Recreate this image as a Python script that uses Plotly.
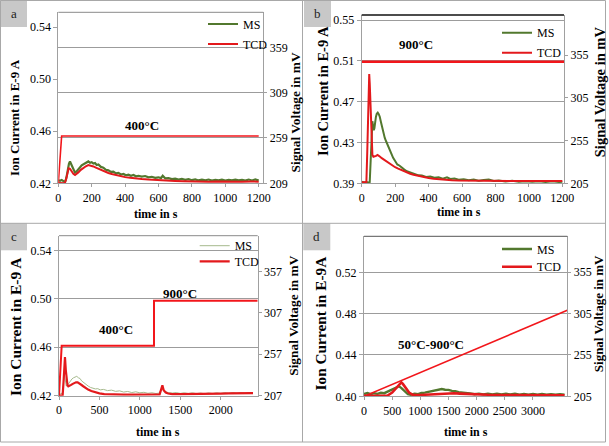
import plotly.graph_objects as go

# ---------------- data ----------------
# panel a : 400 °C
ms_a_t = [0, 10, 20, 30, 40, 48, 56, 64, 70, 76, 84, 92, 100, 108, 116, 124, 132, 140, 150, 160,
          170, 180, 190, 200, 210, 220, 230, 240, 255, 270, 285, 300, 315, 330, 345, 360, 375, 390,
          405, 420, 435, 450, 465, 480, 500, 520, 540, 560, 580, 600, 615, 625, 640, 660, 680, 700,
          720, 740, 760, 780, 800, 820, 840, 860, 880, 900, 920, 940, 960, 980, 1000, 1020, 1040,
          1060, 1080, 1100, 1120, 1140, 1160, 1180, 1200]
ms_a = [0.4224, 0.4220, 0.4226, 0.4218, 0.4208, 0.4240, 0.4310, 0.4352, 0.4368, 0.4350, 0.4318,
        0.4296, 0.4282, 0.4290, 0.4305, 0.4318, 0.4326, 0.4338, 0.4344, 0.4352, 0.4360, 0.4368,
        0.4358, 0.4362, 0.4352, 0.4356, 0.4340, 0.4344, 0.4326, 0.4320, 0.4304, 0.4300, 0.4288,
        0.4290, 0.4276, 0.4280, 0.4268, 0.4272, 0.4262, 0.4266, 0.4258, 0.4264, 0.4254, 0.4258,
        0.4252, 0.4256, 0.4246, 0.4250, 0.4242, 0.4246, 0.4240, 0.4258, 0.4238, 0.4240, 0.4232,
        0.4236, 0.4228, 0.4234, 0.4226, 0.4232, 0.4224, 0.4230, 0.4222, 0.4228, 0.4223, 0.4229,
        0.4221, 0.4227, 0.4222, 0.4228, 0.4221, 0.4227, 0.4222, 0.4228, 0.4222, 0.4227, 0.4221,
        0.4229, 0.4222, 0.4230, 0.4221]
tcd_a_t = [0, 20, 38, 46, 54, 62, 70, 80, 90, 100, 110, 120, 135, 150, 165, 180, 195, 210, 225, 240,
           260, 280, 300, 320, 340, 360, 380, 400, 430, 460, 500, 540, 580, 620, 660, 700, 750, 800,
           850, 900, 950, 1000, 1050, 1100, 1150, 1200]
tcd_a = [209.4, 209.2, 209.0, 213.0, 221.0, 225.6, 225.0, 222.0, 219.4, 218.2, 219.4, 221.0, 223.8,
         226.0, 227.8, 229.2, 228.6, 227.6, 226.3, 225.0, 223.4, 222.0, 220.4, 219.2, 218.2, 217.4,
         216.4, 215.8, 215.2, 214.4, 213.8, 213.2, 212.6, 212.3, 212.0, 211.6, 211.3, 211.0, 211.2,
         210.8, 211.0, 210.7, 211.0, 210.8, 211.0, 210.8]
temp_a_t = [0, 20, 1200]
temp_a = [209.0, 261.2, 261.2]

# panel b : 900 °C
ms_b_t = [0, 15, 30, 42, 48, 52, 56, 60, 64, 68, 72, 76, 80, 85, 90, 96, 102, 108, 115, 122, 130,
          138, 146, 155, 165, 175, 188, 200, 213, 227, 240, 255, 270, 285, 300, 320, 340, 360, 385,
          410, 435, 460, 485, 510, 530, 555, 580, 610, 640, 670, 700, 730, 760, 790, 820, 860, 900,
          940, 980, 1020, 1060, 1100, 1140, 1180, 1200]
ms_b = [0.3915, 0.3908, 0.3912, 0.3906, 0.3912, 0.4050, 0.4300, 0.4480, 0.4508, 0.4460, 0.4420,
        0.4440, 0.4500, 0.4550, 0.4582, 0.4592, 0.4578, 0.4552, 0.4500, 0.4450, 0.4392, 0.4345,
        0.4312, 0.4275, 0.4232, 0.4200, 0.4150, 0.4118, 0.4085, 0.4072, 0.4052, 0.4034, 0.4018,
        0.4008, 0.3998, 0.3990, 0.3978, 0.3976, 0.3962, 0.3966, 0.3954, 0.3958, 0.3946, 0.3958,
        0.3942, 0.3946, 0.3936, 0.3940, 0.3930, 0.3936, 0.3926, 0.3932, 0.3938, 0.3922, 0.3928,
        0.3918, 0.3924, 0.3915, 0.3921, 0.3914, 0.3920, 0.3912, 0.3919, 0.3912, 0.3916]
tcd_b_t = [0, 15, 28, 33, 38, 42, 45, 48, 52, 56, 60, 64, 70, 78, 86, 95, 102, 110, 120, 130, 140,
           150, 160, 170, 185, 200, 215, 230, 250, 270, 290, 310, 330, 350, 375, 400, 430, 460, 500,
           540, 580, 620, 680, 740, 800, 880, 960, 1040, 1120, 1200]
tcd_b = [206.2, 206.0, 206.4, 240.0, 290.0, 322.0, 332.7, 322.0, 295.0, 268.0, 248.0, 238.0, 236.0,
         236.2, 237.0, 238.2, 237.6, 236.0, 234.4, 233.0, 231.6, 230.2, 228.6, 227.2, 225.4, 223.8,
         222.4, 221.0, 219.2, 217.6, 216.2, 215.0, 214.0, 213.1, 212.0, 211.2, 210.4, 209.7, 209.1,
         208.6, 208.3, 208.1, 207.9, 207.8, 207.7, 207.6, 207.6, 207.6, 207.5, 207.6]
temp_b_t = [0, 1210]
temp_b = [347.1, 347.1]

# panel c : 400 °C then 900 °C
ms_c_t = [0, 20, 40, 50, 58, 66, 74, 82, 90, 100, 112, 125, 140, 160, 180, 200, 220, 240, 260, 280,
          300, 330, 360, 390, 420, 450, 480, 510, 550, 600, 650, 700, 750, 800, 850, 900, 950, 1000,
          1050, 1100, 1150, 1200, 1240, 1260, 1278, 1295, 1320, 1350, 1400, 1450, 1500, 1550, 1600,
          1650, 1700, 1750, 1800, 1850, 1900, 1950, 2000, 2050, 2100, 2150, 2200, 2250, 2300, 2350,
          2400]
ms_c = [0.4222, 0.4215, 0.4220, 0.4260, 0.4330, 0.4372, 0.4345, 0.4300, 0.4280, 0.4282, 0.4295,
        0.4310, 0.4322, 0.4338, 0.4348, 0.4356, 0.4360, 0.4348, 0.4342, 0.4322, 0.4310, 0.4290,
        0.4280, 0.4268, 0.4262, 0.4256, 0.4258, 0.4248, 0.4252, 0.4242, 0.4246, 0.4236, 0.4240,
        0.4230, 0.4235, 0.4226, 0.4232, 0.4224, 0.4228, 0.4220, 0.4224, 0.4218, 0.4222, 0.4245,
        0.4272, 0.4240, 0.4232, 0.4226, 0.4222, 0.4226, 0.4219, 0.4224, 0.4218, 0.4224, 0.4217,
        0.4222, 0.4216, 0.4223, 0.4217, 0.4224, 0.4218, 0.4225, 0.4219, 0.4226, 0.4220, 0.4225,
        0.4219, 0.4226, 0.4221]
tcd_c_t = [0, 30, 45, 55, 64, 74, 84, 95, 105, 115, 130, 150, 170, 190, 210, 230, 250, 275, 300,
           330, 360, 400, 450, 500, 560, 620, 700, 800, 900, 1000, 1100, 1200, 1245, 1262, 1279,
           1295, 1320, 1350, 1400, 1500, 1600, 1700, 1800, 1900, 2000, 2100, 2200, 2300, 2400]
tcd_c = [207.2, 207.0, 207.5, 222.0, 240.0, 253.7, 238.0, 225.0, 219.5, 218.3, 218.8, 220.0, 221.3,
         222.4, 223.1, 223.0, 222.0, 220.2, 218.4, 216.3, 214.4, 212.6, 211.0, 209.8, 209.0, 208.6,
         208.3, 208.2, 208.2, 208.2, 208.2, 208.3, 208.6, 214.0, 219.5, 213.5, 210.8, 209.6, 209.0,
         208.8, 208.8, 208.9, 209.0, 209.2, 209.5, 209.8, 210.0, 210.1, 210.2]
temp_c_t = [0, 33, 1175, 1175, 2458]
temp_c = [207.0, 267.3, 267.3, 321.6, 321.6]

# panel d : ramp 50 °C - 900 °C
ms_d_t = [0, 60, 120, 180, 240, 300, 360, 420, 480, 540, 580, 620, 660, 700, 740, 780, 830, 900,
          960, 1020, 1080, 1140, 1200, 1260, 1320, 1380, 1440, 1500, 1560, 1620, 1680, 1740, 1800,
          1880, 1960, 2040, 2120, 2200, 2280, 2360, 2440, 2520, 2600, 2680, 2760, 2840, 2920, 3000,
          3080, 3160, 3240, 3320, 3400, 3480, 3560]
ms_d = [0.4022, 0.4032, 0.4020, 0.4030, 0.4024, 0.4034, 0.4030, 0.4046, 0.4062, 0.4080, 0.4092,
        0.4097, 0.4082, 0.4060, 0.4036, 0.4022, 0.4016, 0.4026, 0.4020, 0.4032, 0.4036, 0.4044,
        0.4050, 0.4060, 0.4066, 0.4071, 0.4064, 0.4062, 0.4052, 0.4050, 0.4040, 0.4038, 0.4030,
        0.4028, 0.4020, 0.4026, 0.4019, 0.4026, 0.4018, 0.4025, 0.4018, 0.4024, 0.4017, 0.4024,
        0.4016, 0.4023, 0.4016, 0.4022, 0.4015, 0.4022, 0.4016, 0.4021, 0.4015, 0.4020, 0.4016]
tcd_d_t = [0, 200, 350, 420, 500, 580, 640, 663, 690, 740, 800, 860, 900, 1000, 1100, 1200, 1300,
           1400, 1500, 1600, 1700, 1800, 1900, 2000, 2200, 2400, 2600, 2800, 3000, 3200, 3400, 3560]
tcd_d = [205.6, 205.5, 205.6, 206.0, 209.5, 215.2, 220.4, 221.9, 220.0, 214.5, 209.5, 207.0, 206.6,
         206.6, 207.0, 207.6, 208.2, 208.6, 208.8, 208.6, 208.2, 207.8, 207.4, 207.0, 206.8, 206.6,
         206.5, 206.4, 206.4, 206.3, 206.3, 206.3]
temp_d_t = [0, 3609]
temp_d = [205.0, 309.0]

# tick values
x_ticks_a = [0, 200, 400, 600, 800, 1000, 1200]
x_ticks_c = [0, 500, 1000, 1500, 2000]
x_ticks_d = [0, 500, 1000, 1500, 2000, 2500, 3000]
yl_ticks_a = [0.42, 0.46, 0.50, 0.54]
yr_ticks_a = [209, 259, 309, 359]
yl_ticks_b = [0.39, 0.43, 0.47, 0.51, 0.55]
yr_ticks_b = [205, 255, 305, 355]
yl_ticks_c = [0.42, 0.46, 0.50, 0.54]
yr_ticks_c = [207, 257, 307, 357]
yl_ticks_d = [0.40, 0.44, 0.48, 0.52]
yr_ticks_d = [205, 255, 305, 355]

# ---------------- styling / layout ----------------
W, H = 609, 446
FONT = "Liberation Serif, serif"
GREEN = "#52782E"
GREEN_LIGHT = "#A6B98D"
RED = "#E3191C"
TEMP_RED = "#F2161B"
AX = "#A0A0A0"


def px(x):
    return x / W


def py(y):
    return 1 - y / H


def yname(n):
    return "y" if n == 1 else f"y{n}"


def ykey(n):
    return "yaxis" if n == 1 else f"yaxis{n}"


def xname(n):
    return "x" if n == 1 else f"x{n}"


def xkey(n):
    return "xaxis" if n == 1 else f"xaxis{n}"


def lkey(n):
    return "legend" if n == 1 else f"legend{n}"


panels = [
    dict(letter="a", x0=58.3, x1=263.3, top=12.3, bot=183.3, xr=[0, 1227.5], xt=x_ticks_a,
         yl=[0.42, 0.5515], ylt=yl_ticks_a, yr=[209, 397.6], yrt=yr_ticks_a, grid="right",
         ms=(ms_a_t, ms_a, GREEN, 2.2), tcd=(tcd_a_t, tcd_a, RED, 2.0), temp=(temp_a_t, temp_a, 1.6),
         leg=[(240, 23), (240, 43)], box=(0, 0), top_color="#8A8A8A", top_w=1,
         ltitle=(14, 118, 13), rtitle=(295, 112.5, 13.4), xtitle=(155.7, 214),
         notes=[("400°C", 141.7, 125)]),
    dict(letter="b", x0=361.7, x1=564, top=15, bot=183.3, xr=[0, 1210], xt=x_ticks_a,
         yl=[0.39, 0.5549], ylt=yl_ticks_b, yr=[205, 401.8], yrt=yr_ticks_b, grid="left",
         ms=(ms_b_t, ms_b, GREEN, 2.0), tcd=(tcd_b_t, tcd_b, RED, 2.0), temp=(temp_b_t, temp_b, 2.6),
         leg=[(534, 31.7), (534, 51.7)], box=(304, 0), top_color="#111111", top_w=1.5,
         ltitle=(322.3, 90.7, 14.5), rtitle=(599.5, 91.7, 14.5), xtitle=(459, 212),
         notes=[("900°C", 415.7, 45)]),
    dict(letter="c", x0=59, x1=257.7, top=235.7, bot=395.7, xr=[0, 2458], xt=x_ticks_c,
         yl=[0.42, 0.5521], ylt=yl_ticks_c, yr=[207, 400], yrt=yr_ticks_c, grid="left",
         ms=(ms_c_t, ms_c, GREEN_LIGHT, 1.0), tcd=(tcd_c_t, tcd_c, RED, 2.2), temp=(temp_c_t, temp_c, 2.0),
         leg=[(231.7, 244.7), (231.7, 260.3)], box=(0, 223.3), top_color="#8A8A8A", top_w=1,
         ltitle=(15, 327, 15.5), rtitle=(293.3, 315.5, 13.4), xtitle=(158.3, 431.5),
         notes=[("400°C", 116, 329), ("900°C", 180, 293)]),
    dict(letter="d", x0=364, x1=567.3, top=236.3, bot=396.3, xr=[0, 3609], xt=x_ticks_d,
         yl=[0.40, 0.5549], ylt=yl_ticks_d, yr=[205, 398.5], yrt=yr_ticks_d, grid="left",
         ms=(ms_d_t, ms_d, GREEN, 2.4), tcd=(tcd_d_t, tcd_d, RED, 2.6), temp=(temp_d_t, temp_d, 1.6),
         leg=[(534, 248), (534, 265.7)], box=(303.3, 223.3), top_color="#555555", top_w=1,
         ltitle=(320.7, 323.7, 15.3), rtitle=(598.5, 313.7, 13), xtitle=(465.7, 431.5),
         notes=[("50°C-900°C", 430.7, 344.7)]),
]

fig = go.Figure()
layout = dict(width=W, height=H, margin=dict(l=0, r=0, t=0, b=0), template="none",
              paper_bgcolor="white", plot_bgcolor="rgba(0,0,0,0)", showlegend=True,
              font=dict(family=FONT, size=12, color="#000"))
shapes = []
annotations = []

tickfont = dict(family=FONT, size=12, color="#000")

for i, p in enumerate(panels, start=1):
    yl_n, yr_n = 2 * i - 1, 2 * i
    layout[xkey(i)] = dict(domain=[px(p["x0"]), px(p["x1"])], anchor=yname(yl_n), range=p["xr"],
                           tickvals=p["xt"], ticks="outside", ticklen=3, tickcolor=AX,
                           showline=True, linecolor=AX, linewidth=1, showgrid=False,
                           zeroline=False, tickfont=tickfont, fixedrange=True)
    layout[ykey(yl_n)] = dict(domain=[py(p["bot"]), py(p["top"])], anchor=xname(i), range=p["yl"],
                              tickvals=p["ylt"], tickformat=".2f", ticks="outside", ticklen=4,
                              tickcolor=AX, showline=True, linecolor=AX, linewidth=1,
                              showgrid=(p["grid"] == "left"), gridcolor="#9C9C9C", gridwidth=1,
                              zeroline=False, tickfont=tickfont, fixedrange=True)
    layout[ykey(yr_n)] = dict(overlaying=yname(yl_n), side="right", anchor=xname(i), range=p["yr"],
                              tickvals=p["yrt"], ticks="outside", ticklen=3, tickcolor=AX,
                              showline=True, linecolor=AX, linewidth=1,
                              showgrid=(p["grid"] == "right"), gridcolor="#9C9C9C", gridwidth=1,
                              zeroline=False, tickfont=tickfont, fixedrange=True)

    t, v, c, w = p["ms"]
    fig.add_trace(go.Scatter(x=t, y=v, xaxis=xname(i), yaxis=yname(yl_n), mode="lines", name="MS",
                             line=dict(color=c, width=w), legend=lkey(2 * i - 1), hoverinfo="skip"))
    t, v, w = p["temp"]
    fig.add_trace(go.Scatter(x=t, y=v, xaxis=xname(i), yaxis=yname(yr_n), mode="lines",
                             name="temperature", line=dict(color=TEMP_RED, width=w),
                             showlegend=False, hoverinfo="skip"))
    t, v, c, w = p["tcd"]
    fig.add_trace(go.Scatter(x=t, y=v, xaxis=xname(i), yaxis=yname(yr_n), mode="lines", name="TCD",
                             line=dict(color=c, width=w), legend=lkey(2 * i), hoverinfo="skip"))

    for k, (lx, ly) in enumerate(p["leg"]):
        layout[lkey(2 * i - 1 + k)] = dict(x=px(lx - 37), y=py(ly + 1), xanchor="left", yanchor="middle",
                                         bgcolor="rgba(0,0,0,0)", borderwidth=0,
                                         font=dict(family=FONT, size=12, color="#000"))

    # plot-area top border
    shapes.append(dict(type="line", xref="paper", yref="paper", x0=px(p["x0"]), x1=px(p["x1"]),
                       y0=py(p["top"]), y1=py(p["top"]),
                       line=dict(color=p["top_color"], width=p["top_w"])))
    # label box
    bx, by = p["box"]
    shapes.append(dict(type="rect", xref="paper", yref="paper", x0=px(bx), x1=px(bx + 27),
                       y0=py(by + 27), y1=py(by), fillcolor="#C8C8C8", line=dict(width=0),
                       layer="below"))
    annotations.append(dict(text=p["letter"], x=px(bx + 13.5), y=py(by + 13.5), xref="paper",
                            yref="paper", showarrow=False, xanchor="center", yanchor="middle",
                            font=dict(family=FONT, size=13, color="#222")))
    # axis titles
    lx, ly, ls = p["ltitle"]
    annotations.append(dict(text="<b>Ion Current in E-9 A</b>" if p["letter"] != "d" else "<b>Ion Current in E-9A</b>",
                            x=px(lx), y=py(ly), xref="paper", yref="paper", showarrow=False,
                            textangle=-90, xanchor="center", yanchor="middle",
                            font=dict(family=FONT, size=ls, color="#000")))
    rx, ry, rs = p["rtitle"]
    annotations.append(dict(text="<b>Signal Voltage in mV</b>", x=px(rx), y=py(ry), xref="paper",
                            yref="paper", showarrow=False, textangle=-90, xanchor="center",
                            yanchor="middle", font=dict(family=FONT, size=rs, color="#000")))
    tx, ty = p["xtitle"]
    annotations.append(dict(text="<b>time in s</b>", x=px(tx), y=py(ty), xref="paper", yref="paper",
                            showarrow=False, xanchor="center", yanchor="middle",
                            font=dict(family=FONT, size=12, color="#000")))
    for txt, nx, ny in p["notes"]:
        annotations.append(dict(text=f"<b>{txt}</b>", x=px(nx), y=py(ny), xref="paper", yref="paper",
                                showarrow=False, xanchor="center", yanchor="middle",
                                font=dict(family=FONT, size=13, color="#000")))

# panel frames
FR = "#A8A8A8"
shapes += [
    dict(type="rect", xref="paper", yref="paper", x0=px(0.5), x1=px(605.5), y0=py(442), y1=py(0.5),
         line=dict(color=FR, width=1)),
    dict(type="line", xref="paper", yref="paper", x0=px(302.5), x1=px(302.5), y0=py(442), y1=py(0.5),
         line=dict(color=FR, width=1)),
    dict(type="line", xref="paper", yref="paper", x0=px(0.5), x1=px(605.5), y0=py(223.3), y1=py(223.3),
         line=dict(color=FR, width=1)),
]

layout["shapes"] = shapes
layout["annotations"] = annotations
fig.update_layout(**layout)
# remove the default page margin so the 609x446 figure fills the window exactly
fig.write_html("out.html", config={"displayModeBar": False},
               post_script="document.body.style.margin='0';document.body.style.padding='0';"
                           "document.body.style.overflow='hidden';")
